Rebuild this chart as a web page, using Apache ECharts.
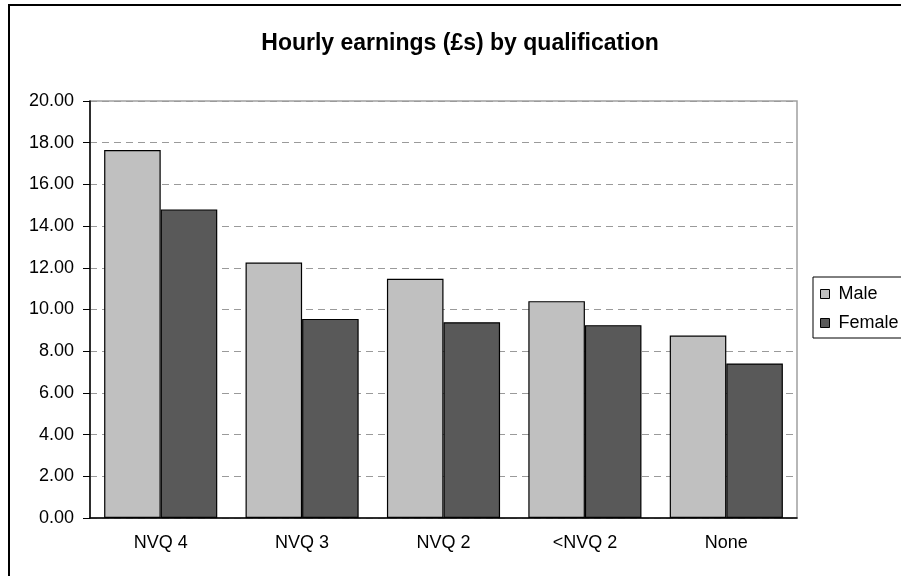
<!DOCTYPE html>
<html>
<head>
<meta charset="utf-8">
<script src="https://cdn.jsdelivr.net/npm/echarts@6/dist/echarts.min.js"></script>
<style>
  html, body { margin: 0; padding: 0; background: #ffffff; }
  #chart { width: 901px; height: 576px; }
</style>
</head>
<body>
<div id="chart"></div>
<script>
// data
const categories = ["NVQ 4", "NVQ 3", "NVQ 2", "<NVQ 2", "None"];
const maleValues = [17.65, 12.25, 11.47, 10.4, 8.75];
const femaleValues = [14.8, 9.55, 9.39, 9.25, 7.41];
const seriesNames = ["Male", "Female"];

const font = "'Liberation Sans', Arial, sans-serif";

const myChart = echarts.init(document.getElementById("chart"));

const option = {
  animation: false,
  backgroundColor: "#ffffff",
  title: {
    text: "Hourly earnings (£s) by qualification",
    left: 460,
    top: 32,
    textAlign: "center",
    padding: 0,
    textStyle: {
      fontFamily: font,
      fontWeight: "bold",
      fontSize: 23,
      color: "#000000",
    },
  },
  // outer frame of the chart
  graphic: [
    {
      type: "rect",
      shape: { x: 9, y: 5, width: 900, height: 600 },
      style: { fill: null, stroke: "#000000", lineWidth: 2 },
      silent: true,
    },
  ],
  legend: {
    orient: "vertical",
    left: 813,
    top: 277,
    padding: [8, 40, 6, 7],
    itemWidth: 9,
    itemHeight: 9,
    itemGap: 11,
    borderColor: "#000000",
    borderWidth: 1,
    icon: "rect",
    itemStyle: { borderColor: "#000000", borderWidth: 1 },
    textStyle: {
      fontFamily: font,
      fontSize: 18,
      color: "#000000",
      padding: [0, 0, 0, 4],
    },
    data: seriesNames,
  },
  grid: {
    left: 90,
    top: 101,
    right: 104,
    bottom: 58,
    show: true,
    borderColor: "#a0a0a0",
    borderWidth: 1.5,
    backgroundColor: "#ffffff",
  },
  xAxis: {
    type: "category",
    data: categories,
    axisLine: { lineStyle: { color: "#000000", width: 1.5 } },
    axisTick: { length: 6, lineStyle: { color: "#000000" } },
    axisLabel: {
      margin: 16,
      fontFamily: font,
      fontSize: 18,
      color: "#000000",
    },
  },
  yAxis: {
    type: "value",
    min: 0,
    max: 20,
    interval: 2,
    axisLine: { show: true, lineStyle: { color: "#000000", width: 1.5 } },
    axisTick: { show: true, length: 7, lineStyle: { color: "#000000" } },
    axisLabel: {
      margin: 16,
      fontFamily: font,
      fontSize: 18,
      color: "#000000",
      formatter: (v) => v.toFixed(2),
    },
    splitLine: {
      lineStyle: { color: "#9a9a9a", type: [7, 5], width: 1 },
    },
  },
  series: [
    {
      name: seriesNames[0],
      type: "bar",
      data: maleValues,
      barGap: "0%",
      barCategoryGap: "20%",
      itemStyle: { color: "#c0c0c0", borderColor: "#000000", borderWidth: 1.2 },
    },
    {
      name: seriesNames[1],
      type: "bar",
      data: femaleValues,
      barGap: "0%",
      barCategoryGap: "20%",
      itemStyle: { color: "#595959", borderColor: "#000000", borderWidth: 1.2 },
    },
  ],
};

myChart.setOption(option);
</script>
</body>
</html>
